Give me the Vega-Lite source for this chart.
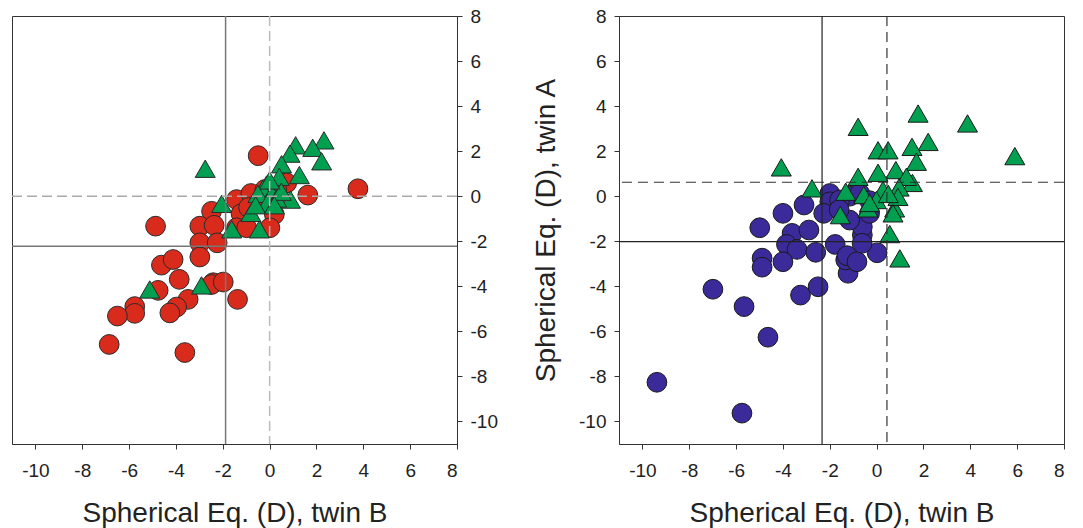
{
  "$schema": "https://vega.github.io/schema/vega-lite/v6.json",
  "background": "white",
  "padding": {"left": 10, "top": 6, "right": 5, "bottom": 3},
  "bounds": "flush",
  "spacing": 162,
  "config": {
    "view": {"stroke": "#333", "strokeWidth": 1},
    "font": "Liberation Sans",
    "axis": {"grid": false, "domainColor": "#333", "tickColor": "#333", "tickSize": 5, "labelFont": "Liberation Sans", "labelFontSize": 19, "labelColor": "#222", "titleFont": "Liberation Sans", "titleFontSize": 28, "titleFontWeight": "normal", "titleColor": "#222", "labelExpr": "datum.value < 0 ? '-' + abs(datum.value) : '' + datum.value"}
  },
  "datasets": {
    "leftCircles": [
      {"b": -0.49, "a": 1.80}, {"b": -4.87, "a": -1.33}, {"b": -2.48, "a": -0.67}, {"b": -2.98, "a": -1.33},
      {"b": -2.37, "a": -1.29}, {"b": -2.98, "a": -2.07}, {"b": -2.24, "a": -2.07}, {"b": -2.98, "a": -2.70},
      {"b": -4.62, "a": -3.06}, {"b": -4.12, "a": -2.81}, {"b": -3.86, "a": -3.69}, {"b": -4.76, "a": -4.18},
      {"b": -2.41, "a": -3.84}, {"b": -2.48, "a": -3.92}, {"b": -1.98, "a": -3.81}, {"b": -1.37, "a": -4.58},
      {"b": -3.48, "a": -4.58}, {"b": -3.97, "a": -4.92}, {"b": -4.26, "a": -5.18}, {"b": -5.76, "a": -4.90},
      {"b": -5.76, "a": -5.20}, {"b": -6.50, "a": -5.32}, {"b": -6.85, "a": -6.58}, {"b": -3.62, "a": -6.94},
      {"b": 1.63, "a": 0.05}, {"b": 3.77, "a": 0.33}, {"b": 0.73, "a": 0.59}, {"b": -1.41, "a": -0.15},
      {"b": -0.80, "a": 0.12}, {"b": -1.22, "a": -0.78}, {"b": 0.20, "a": -0.81}, {"b": 0.01, "a": -1.40},
      {"b": -1.41, "a": -1.40}, {"b": -0.98, "a": -1.40}, {"b": -0.40, "a": -0.30}, {"b": 0.10, "a": -0.20},
      {"b": -0.90, "a": -0.50}, {"b": -0.20, "a": 0.30}, {"b": 0.30, "a": 0.30}
    ],
    "leftTriangles": [
      {"b": -2.75, "a": 1.22}, {"b": -2.05, "a": -0.34}, {"b": -5.12, "a": -4.14}, {"b": -2.91, "a": -3.96},
      {"b": -1.62, "a": -1.47}, {"b": -0.44, "a": -1.47}, {"b": -0.80, "a": -0.74}, {"b": 1.11, "a": 2.26},
      {"b": 2.32, "a": 2.48}, {"b": 1.84, "a": 2.15}, {"b": 2.22, "a": 1.55}, {"b": 0.87, "a": 1.89},
      {"b": 0.51, "a": 1.42}, {"b": 1.27, "a": 0.94}, {"b": 0.41, "a": 0.86}, {"b": -0.13, "a": 0.52},
      {"b": 0.89, "a": -0.15}, {"b": -0.30, "a": 0.30}, {"b": 0.10, "a": 0.10}, {"b": 0.30, "a": -0.10},
      {"b": -0.50, "a": 0.10}, {"b": -0.10, "a": -0.30}, {"b": 0.50, "a": 0.20}, {"b": -0.60, "a": -0.40},
      {"b": 0.20, "a": -0.40}, {"b": 0.00, "a": 0.70}
    ],
    "rightCircles": [
      {"b": -3.10, "a": -0.39}, {"b": -4.00, "a": -0.76}, {"b": -4.99, "a": -1.40}, {"b": -2.00, "a": 0.12},
      {"b": -2.00, "a": -0.25}, {"b": -2.26, "a": -0.76}, {"b": -3.61, "a": -1.65}, {"b": -2.89, "a": -1.50},
      {"b": -3.85, "a": -2.14}, {"b": -3.40, "a": -2.36}, {"b": -2.60, "a": -2.49}, {"b": -4.89, "a": -2.75},
      {"b": -4.89, "a": -3.15}, {"b": -4.00, "a": -2.91}, {"b": -1.77, "a": -2.14}, {"b": -6.99, "a": -4.13},
      {"b": -5.66, "a": -4.90}, {"b": -4.64, "a": -6.26}, {"b": -9.38, "a": -8.26}, {"b": -5.75, "a": -9.63},
      {"b": -3.25, "a": -4.39}, {"b": -2.50, "a": -4.02}, {"b": -1.22, "a": -3.42}, {"b": -1.32, "a": -2.83},
      {"b": -1.26, "a": -2.64}, {"b": -0.84, "a": -2.91}, {"b": -0.61, "a": -1.72}, {"b": -0.61, "a": -1.36},
      {"b": 0.02, "a": -2.51}, {"b": -0.62, "a": -2.09}, {"b": -1.15, "a": 0.00}, {"b": -0.72, "a": 0.12},
      {"b": -1.58, "a": -0.17}, {"b": -0.30, "a": -0.20}, {"b": -0.30, "a": -0.76}, {"b": -1.15, "a": -1.06},
      {"b": -1.60, "a": -0.60}
    ],
    "rightTriangles": [
      {"b": -4.07, "a": 1.28}, {"b": -2.76, "a": 0.35}, {"b": -1.55, "a": -0.84}, {"b": 1.77, "a": 3.67},
      {"b": 3.88, "a": 3.23}, {"b": -0.79, "a": 3.08}, {"b": 5.90, "a": 1.78}, {"b": 2.20, "a": 2.41},
      {"b": 1.51, "a": 2.19}, {"b": 0.06, "a": 2.04}, {"b": 0.49, "a": 2.04}, {"b": 1.70, "a": 1.53},
      {"b": 0.82, "a": 1.16}, {"b": 0.06, "a": 1.04}, {"b": -0.79, "a": 0.86}, {"b": 1.53, "a": 0.59},
      {"b": 1.27, "a": 0.86}, {"b": 0.96, "a": 0.39}, {"b": -1.32, "a": 0.20}, {"b": -0.55, "a": 0.05},
      {"b": 0.27, "a": 0.27}, {"b": -0.01, "a": -0.17}, {"b": -0.37, "a": -0.54}, {"b": 0.77, "a": -0.54},
      {"b": 0.91, "a": -0.03}, {"b": 0.70, "a": -0.76}, {"b": 0.56, "a": -1.68}, {"b": 0.99, "a": -2.76},
      {"b": -0.30, "a": -0.30}, {"b": 0.50, "a": 0.10}
    ],
    "leftSolidV": [{"b": -1.88}],
    "leftSolidH": [{"a": -2.22}],
    "leftDashV": [{"b": 0}],
    "leftDashH": [{"a": 0}],
    "rightSolidV": [{"b": -2.33}],
    "rightSolidH": [{"a": -2.02}],
    "rightDashV": [{"b": 0.44}],
    "rightDashH": [{"a": 0.62}]
  },
  "hconcat": [
    {
      "width": 445,
      "height": 428,
      "layer": [
        {
          "data": {"name": "leftCircles"},
          "mark": {"type": "point", "shape": "circle", "filled": true, "size": 390, "color": "#d92b1c", "stroke": "#2a2a2a", "strokeWidth": 1, "opacity": 1},
          "encoding": {
            "x": {"field": "b", "type": "quantitative", "title": "Spherical Eq. (D), twin B", "scale": {"domain": [-11, 8], "nice": false, "zero": false}, "axis": {"values": [-10, -8, -6, -4, -2, 0, 2, 4, 6, 8], "labelPadding": 12, "titlePadding": 19}},
            "y": {"field": "a", "type": "quantitative", "title": null, "scale": {"domain": [-11, 8], "nice": false, "zero": false}, "axis": {"orient": "right", "values": [-10, -8, -6, -4, -2, 0, 2, 4, 6, 8], "labelPadding": 8}}
          }
        },
        {
          "data": {"name": "leftTriangles"},
          "mark": {"type": "point", "shape": "triangle-up", "filled": true, "size": 400, "color": "#00a050", "stroke": "#2a2a2a", "strokeWidth": 1, "opacity": 1},
          "encoding": {
            "x": {"field": "b", "type": "quantitative", "title": "Spherical Eq. (D), twin B"},
            "y": {"field": "a", "type": "quantitative", "title": null}
          }
        },
        {
          "data": {"name": "leftSolidV"},
          "mark": {"type": "rule", "color": "#777", "strokeWidth": 1.5},
          "encoding": {"x": {"field": "b", "type": "quantitative", "title": "Spherical Eq. (D), twin B"}}
        },
        {
          "data": {"name": "leftSolidH"},
          "mark": {"type": "rule", "color": "#777", "strokeWidth": 1.5},
          "encoding": {"y": {"field": "a", "type": "quantitative", "title": null}}
        },
        {
          "data": {"name": "leftDashV"},
          "mark": {"type": "rule", "color": "#bbb", "strokeWidth": 1.5, "strokeDash": [10, 5]},
          "encoding": {"x": {"field": "b", "type": "quantitative", "title": "Spherical Eq. (D), twin B"}}
        },
        {
          "data": {"name": "leftDashH"},
          "mark": {"type": "rule", "color": "#aaa", "strokeWidth": 1.5, "strokeDash": [10, 5]},
          "encoding": {"y": {"field": "a", "type": "quantitative", "title": null}}
        }
      ]
    },
    {
      "width": 445,
      "height": 428,
      "layer": [
        {
          "data": {"name": "rightCircles"},
          "mark": {"type": "point", "shape": "circle", "filled": true, "size": 390, "color": "#3a2a9a", "stroke": "#1a1a1a", "strokeWidth": 1, "opacity": 1},
          "encoding": {
            "x": {"field": "b", "type": "quantitative", "title": "Spherical Eq. (D), twin B", "scale": {"domain": [-11, 8], "nice": false, "zero": false}, "axis": {"values": [-10, -8, -6, -4, -2, 0, 2, 4, 6, 8], "labelPadding": 12, "titlePadding": 19}},
            "y": {"field": "a", "type": "quantitative", "title": "Spherical Eq. (D), twin A", "scale": {"domain": [-11, 8], "nice": false, "zero": false}, "axis": {"orient": "left", "values": [-10, -8, -6, -4, -2, 0, 2, 4, 6, 8], "labelPadding": 8, "titlePadding": 18}}
          }
        },
        {
          "data": {"name": "rightTriangles"},
          "mark": {"type": "point", "shape": "triangle-up", "filled": true, "size": 400, "color": "#00a050", "stroke": "#1a1a1a", "strokeWidth": 1, "opacity": 1},
          "encoding": {
            "x": {"field": "b", "type": "quantitative", "title": "Spherical Eq. (D), twin B"},
            "y": {"field": "a", "type": "quantitative", "title": "Spherical Eq. (D), twin A"}
          }
        },
        {
          "data": {"name": "rightSolidV"},
          "mark": {"type": "rule", "color": "#222", "strokeWidth": 1.2},
          "encoding": {"x": {"field": "b", "type": "quantitative", "title": "Spherical Eq. (D), twin B"}}
        },
        {
          "data": {"name": "rightSolidH"},
          "mark": {"type": "rule", "color": "#222", "strokeWidth": 1.2},
          "encoding": {"y": {"field": "a", "type": "quantitative", "title": "Spherical Eq. (D), twin A"}}
        },
        {
          "data": {"name": "rightDashV"},
          "mark": {"type": "rule", "color": "#333", "strokeWidth": 1.2, "strokeDash": [10, 6]},
          "encoding": {"x": {"field": "b", "type": "quantitative", "title": "Spherical Eq. (D), twin B"}}
        },
        {
          "data": {"name": "rightDashH"},
          "mark": {"type": "rule", "color": "#333", "strokeWidth": 1.2, "strokeDash": [10, 6]},
          "encoding": {"y": {"field": "a", "type": "quantitative", "title": "Spherical Eq. (D), twin A"}}
        }
      ]
    }
  ]
}
